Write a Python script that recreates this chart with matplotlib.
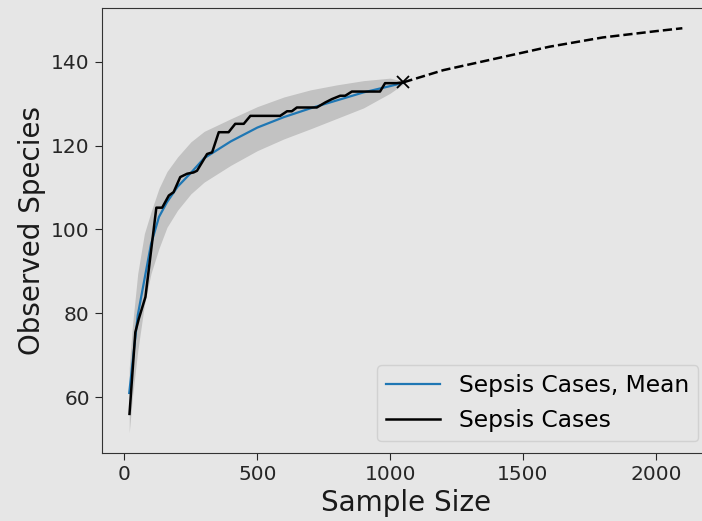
import matplotlib
matplotlib.use("Agg")
import matplotlib.pyplot as plt

# observed curve (step-like)
obs_x = [19, 41, 54, 79, 120, 142, 167, 185, 210, 236, 260, 273, 311, 330, 355, 392,
         417, 449, 474, 586, 612, 630, 649, 724, 756, 781, 812, 831, 856, 962, 981, 1025, 1050]
obs_y = [56, 75.5, 78.7, 83.9, 105.2, 105.2, 108.1, 108.9, 112.5, 113.3, 113.6, 114, 118, 118.4, 123.2, 123.2,
         125.2, 125.2, 127.1, 127.1, 128.2, 128.2, 129.1, 129.1, 130.3, 131.1, 131.9, 131.9, 132.9, 132.9, 134.9, 134.9, 135.1]

# rarefaction mean and band
rare_x = [18, 30, 50, 75, 100, 130, 160, 200, 250, 300, 400, 500, 600, 700, 800, 900, 1000, 1050]
rare_mean = [61, 68, 79.5, 88, 96.5, 103, 106.5, 110.2, 113.5, 117, 121, 124.3, 126.8, 128.9, 130.8, 132.7, 134.2, 135]
rare_upper = [67, 77, 89.5, 99, 104.2, 109.8, 113.8, 117.3, 120.9, 123.4, 126.4, 129.3, 131.6, 133.3, 134.5, 135.5, 136.1, 135.3]
rare_lower = [51.5, 60, 71, 82, 89.5, 95.5, 100.5, 104.6, 108.5, 111.3, 115.3, 118.8, 121.6, 124, 126.5, 129, 132.5, 134.7]

# extrapolation
ext_x = [1050, 1200, 1400, 1600, 1800, 2000, 2100]
ext_y = [135.1, 138.0, 140.8, 143.6, 145.8, 147.3, 148.0]

bg = "#e6e6e6"
fig = plt.figure(figsize=(7.02, 5.21), dpi=100, facecolor=bg)
ax = fig.add_axes([0.1447, 0.1305, 1.0114 - 0.1447, 0.9846 - 0.1305])
ax.set_facecolor(bg)

ax.fill_between(rare_x, rare_lower, rare_upper, color="#c2c2c2", lw=0)
ax.plot(rare_x, rare_mean, color="tab:blue", lw=1.6, label="Sepsis Cases, Mean")
ax.plot(obs_x, obs_y, color="black", lw=1.8, label="Sepsis Cases")
ax.plot(ext_x, ext_y, color="black", lw=1.8, ls="--")
ax.plot([obs_x[-1]], [obs_y[-1]], marker="x", color="black", ms=8, mew=1.3)

ax.set_xlabel("Sample Size", fontsize=20, color="#1a1a1a")
ax.set_ylabel("Observed Species", fontsize=20, color="#1a1a1a")
ax.tick_params(labelsize=14.5, colors="#262626", length=5)
ax.set_xticks([0, 500, 1000, 1500, 2000])
ax.set_yticks([60, 80, 100, 120, 140])
for s in ax.spines.values():
    s.set_color("#333333")

ax.legend(loc="lower right", fontsize=16.8, facecolor=bg, handlelength=2.3)

fig.savefig("out.png", dpi=100, facecolor=bg)
